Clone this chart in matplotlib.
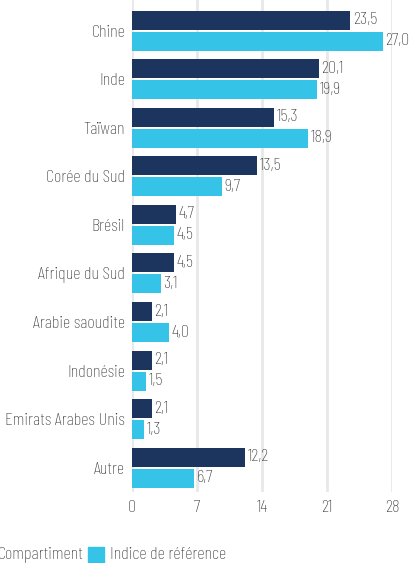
import numpy as np
import matplotlib.pyplot as plt
from matplotlib.patches import Rectangle

plt.rcParams['font.family'] = ['Barlow Condensed', 'DejaVu Sans']
plt.rcParams['font.weight'] = 'light'

countries = ["Chine", "Inde", "Taïwan", "Corée du Sud", "Brésil",
             "Afrique du Sud", "Arabie saoudite", "Indonésie",
             "Emirats Arabes Unis", "Autre"]
compartiment = [23.5, 20.1, 15.3, 13.5, 4.7, 4.5, 2.1, 2.1, 2.1, 12.2]
indice = [27.0, 19.9, 18.9, 9.7, 4.5, 3.1, 4.0, 1.5, 1.3, 6.7]
ticks = [0, 7, 14, 21, 28]
legend_labels = ["Compartiment", "Indice de référence"]

dark = "#1b355e"
light = "#35c3e8"
text_col = "#333333"
fs = 13.2

W, H = 413, 563
fig = plt.figure(figsize=(W / 100, H / 100), dpi=100)
ax = fig.add_axes([132 / W, 71 / H, 260 / W, 492 / H])

y = np.arange(len(countries))
h = 0.39
off = 0.216
ax.barh(y - off, compartiment, height=h, color=dark, zorder=3)
ax.barh(y + off, indice, height=h, color=light, zorder=3)

for yi, v in zip(y, compartiment):
    ax.text(v + 0.3, yi - off, f"{v:.1f}".replace(".", ","), va="center",
            ha="left", fontsize=fs, color=text_col)
for yi, v in zip(y, indice):
    ax.text(v + 0.3, yi + off, f"{v:.1f}".replace(".", ","), va="center",
            ha="left", fontsize=fs, color=text_col)

ax.set_xlim(0, 28)
ax.set_ylim(9.5, -0.63)
ax.set_xticks(ticks)
ax.set_xticklabels([str(t) for t in ticks], fontsize=fs, color=text_col)
ax.set_yticks(y)
ax.set_yticklabels(countries, fontsize=fs, color=text_col)
ax.tick_params(length=0, pad=5)
ax.tick_params(axis="x", pad=6)
ax.xaxis.grid(True, color="#e8e8e8", linewidth=2, zorder=0)
for s in ax.spines.values():
    s.set_visible(False)

# legend, drawn by hand so it sits where the reference has it (partly cut off)
for x0, col, lab in [(-24, dark, legend_labels[0]), (88, light, legend_labels[1])]:
    fig.patches.append(Rectangle((x0 / W, 0), 16 / W, 16 / H, color=col,
                                 transform=fig.transFigure))
    fig.text((x0 + 22) / W, 8 / H, lab, fontsize=fs, color=text_col,
             va="center", ha="left")

fig.savefig("out.png", dpi=100)
